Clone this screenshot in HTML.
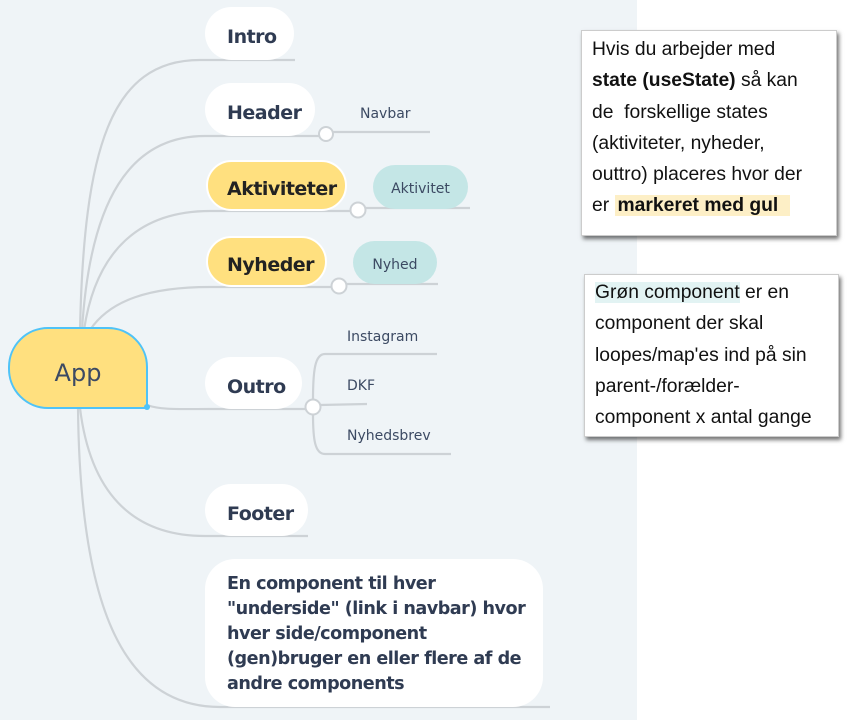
<!DOCTYPE html>
<html><head><meta charset="utf-8"><style>
*{margin:0;padding:0;box-sizing:border-box}
body{width:862px;height:720px;position:relative;background:#fff;overflow:hidden;font-family:"Liberation Sans","DejaVu Sans",sans-serif}
#bg{position:absolute;left:0;top:0;width:637px;height:720px;background:#eff4f7}
.n{position:absolute;display:flex;align-items:center;font-weight:bold;font-size:19px;color:#2f3b52;border-radius:28px;background:#fff;padding-left:22px;padding-top:7px;font-family:"DejaVu Sans","Liberation Sans",sans-serif;letter-spacing:-0.5px}
.y{background:#ffe07f;border:2px solid #fff;padding-left:19px;color:#222}
.t{position:absolute;font-size:14px;color:#3c4a63;font-family:"DejaVu Sans",sans-serif}
.g{position:absolute;background:#c4e6e6;border-radius:24px;font-size:14px;color:#3c4a63;display:flex;align-items:center;justify-content:center;padding-top:4px;font-family:"DejaVu Sans",sans-serif}
.note{position:absolute;background:#fff;border:1px solid #ccc;box-shadow:2px 3px 4px rgba(0,0,0,0.55);font-size:19.3px;line-height:31.3px;color:#111;padding:3px 10px;white-space:nowrap}
</style></head><body>
<div id="bg"></div>
<svg width="862" height="720" style="position:absolute;left:0;top:0" fill="none" stroke="#cdd2d6" stroke-width="2.2">
<path d="M80 330 C 84 150, 110 60, 200 60 L295 60"/>
<path d="M82 330 C 90 200, 130 136, 205 136 L320 136"/>
<path d="M84 330 C 96 250, 140 211, 210 211 L352 211"/>
<path d="M90 330 C 110 300, 150 287, 210 287 L333 287"/>
<path d="M147 405 C 160 410, 180 409, 210 409 L306 409"/>
<path d="M80 408 C 90 490, 130 536, 205 536 L308 536"/>
<path d="M78 408 C 80 600, 120 707, 220 707 L550 707"/>
<path d="M333 132 L430 132"/>
<path d="M365 208 L470 208"/>
<path d="M346 284 L438 284"/>
<path d="M313 400 C 313 370, 315 354, 325 354 L437 354"/>
<path d="M320 405 L367 404"/>
<path d="M313 414 C 313 440, 315 454, 325 454 L451 454"/>
<g fill="#fff" stroke="#cdd2d6" stroke-width="2"><circle cx="326" cy="134" r="7"/><circle cx="358" cy="210" r="7.5"/><circle cx="339" cy="286" r="7.5"/><circle cx="313" cy="407" r="7.5"/></g>
</svg>
<div style="position:absolute;left:8px;top:327px;width:140px;height:82px;background:#ffe07f;border:2px solid #4fc3f7;border-radius:40px 40px 0 40px;display:flex;align-items:center;justify-content:center;padding-top:9px;font-size:24px;color:#3c4a63;font-family:'DejaVu Sans',sans-serif">App</div>
<div style="position:absolute;left:144px;top:404px;width:6px;height:6px;border-radius:50%;background:#4fc3f7"></div>
<div class="n" style="left:205px;top:7px;width:89px;height:53px">Intro</div>
<div class="n" style="left:205px;top:83px;width:110px;height:53px">Header</div>
<div class="n y" style="left:206px;top:160px;width:141px;height:51px">Aktiviteter</div>
<div class="n y" style="left:206px;top:236px;width:121px;height:51px">Nyheder</div>
<div class="n" style="left:205px;top:357px;width:97px;height:52px">Outro</div>
<div class="n" style="left:205px;top:484px;width:103px;height:52px">Footer</div>
<div class="n" style="left:205px;top:559px;width:338px;height:148px;border-radius:30px;align-items:flex-start;padding-top:13px;line-height:25px;font-size:17.6px;color:#2f3b52">En component til hver<br>"underside" (link i navbar) hvor<br>hver side/component<br>(gen)bruger en eller flere af de<br>andre components</div>
<div class="t" style="left:360px;top:106px">Navbar</div>
<div class="g" style="left:373px;top:165px;width:95px;height:44px">Aktivitet</div>
<div class="g" style="left:353px;top:241px;width:84px;height:43px">Nyhed</div>
<div class="t" style="left:347px;top:329px">Instagram</div>
<div class="t" style="left:347px;top:378px">DKF</div>
<div class="t" style="left:347px;top:428px">Nyhedsbrev</div>
<div class="note" style="left:581px;top:30px;width:256px;height:206px">Hvis du arbejder med<br><b>state (useState)</b> så kan<br>de&nbsp; forskellige states<br>(aktiviteter, nyheder,<br>outtro) placeres hvor der<br>er <b style="background:#fdefc6;padding:0 12px 0 3px">markeret med gul</b></div>
<div class="note" style="left:584px;top:274px;width:255px;height:163px;padding-top:2px"><span style="background:#e2f3f3">Grøn component</span> er en<br>component der skal<br>loopes/map'es ind på sin<br>parent-/forælder-<br>component x antal gange</div>
</body></html>
